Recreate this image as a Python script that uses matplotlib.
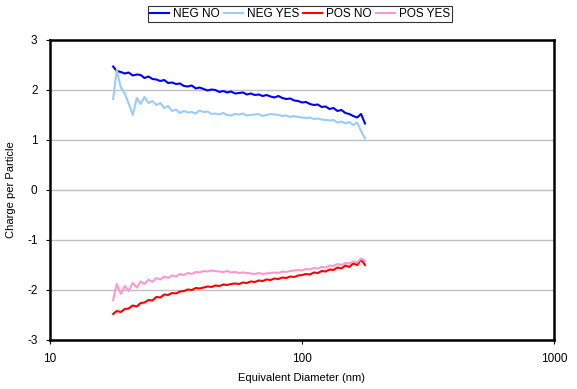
import matplotlib
matplotlib.use("Agg")
import matplotlib.pyplot as plt
from matplotlib.ticker import FixedLocator, NullLocator

plt.rcParams["font.family"] = ["Liberation Sans", "DejaVu Sans"]
plt.rcParams["axes.unicode_minus"] = False

# SMPS channel midpoints (nm)
diameter = [17.8, 18.4, 19.1, 19.8, 20.5, 21.3, 22.1, 22.9, 23.7, 24.6,
            25.5, 26.4, 27.4, 28.4, 29.4, 30.5, 31.6, 32.8, 34.0, 35.2,
            36.5, 37.9, 39.2, 40.7, 42.2, 43.7, 45.3, 47.0, 48.7, 50.5,
            52.3, 54.2, 56.2, 58.3, 60.4, 62.6, 64.9, 67.3, 69.8, 72.3,
            75.0, 77.7, 80.6, 83.5, 86.6, 89.8, 93.1, 96.5, 100.0, 103.7,
            107.5, 111.4, 115.5, 119.7, 124.1, 128.6, 133.3, 138.2, 143.3, 148.6,
            154.0, 159.6, 165.5, 171.5, 177.8]

neg_no = [2.47, 2.38, 2.36, 2.33, 2.35, 2.29, 2.31, 2.30, 2.24, 2.27,
          2.22, 2.21, 2.18, 2.20, 2.14, 2.15, 2.12, 2.13, 2.08, 2.07,
          2.09, 2.03, 2.05, 2.02, 1.99, 2.01, 2.00, 1.96, 1.98, 1.95,
          1.97, 1.93, 1.94, 1.95, 1.91, 1.93, 1.90, 1.91, 1.88, 1.90,
          1.87, 1.85, 1.88, 1.84, 1.82, 1.83, 1.79, 1.78, 1.75, 1.76,
          1.72, 1.70, 1.71, 1.66, 1.67, 1.62, 1.64, 1.58, 1.60, 1.54,
          1.52, 1.48, 1.45, 1.52, 1.33]

neg_yes = [1.82, 2.40, 2.05, 1.93, 1.74, 1.50, 1.84, 1.72, 1.86, 1.74,
           1.78, 1.70, 1.74, 1.64, 1.68, 1.58, 1.61, 1.54, 1.58, 1.55,
           1.56, 1.53, 1.59, 1.56, 1.57, 1.52, 1.53, 1.51, 1.54, 1.50,
           1.49, 1.52, 1.51, 1.53, 1.49, 1.50, 1.51, 1.52, 1.48, 1.50,
           1.52, 1.51, 1.50, 1.48, 1.49, 1.46, 1.48, 1.46, 1.45, 1.44,
           1.45, 1.42, 1.43, 1.41, 1.40, 1.39, 1.40, 1.35, 1.37, 1.33,
           1.36, 1.30, 1.35, 1.18, 1.03]

pos_no = [-2.48, -2.42, -2.44, -2.38, -2.37, -2.31, -2.33, -2.26, -2.25, -2.20,
          -2.21, -2.14, -2.15, -2.09, -2.10, -2.06, -2.07, -2.03, -2.02, -1.99,
          -2.00, -1.96, -1.97, -1.95, -1.93, -1.94, -1.91, -1.92, -1.89, -1.90,
          -1.88, -1.87, -1.88, -1.85, -1.86, -1.83, -1.84, -1.81, -1.82, -1.79,
          -1.80, -1.77, -1.78, -1.75, -1.76, -1.73, -1.74, -1.71, -1.70, -1.68,
          -1.69, -1.65, -1.66, -1.62, -1.63, -1.59, -1.60, -1.55, -1.57, -1.51,
          -1.54, -1.47, -1.50, -1.39, -1.50]

pos_yes = [-2.20, -1.88, -2.08, -1.92, -2.02, -1.86, -1.95, -1.83, -1.88, -1.79,
           -1.84, -1.76, -1.79, -1.73, -1.76, -1.71, -1.73, -1.68, -1.70, -1.66,
           -1.68, -1.64, -1.65, -1.62, -1.63, -1.61, -1.62, -1.63, -1.64, -1.62,
           -1.65, -1.64, -1.66, -1.65, -1.66, -1.67, -1.68, -1.66, -1.68, -1.67,
           -1.66, -1.65, -1.66, -1.63, -1.64, -1.62, -1.61, -1.60, -1.61, -1.58,
           -1.59, -1.56, -1.57, -1.54, -1.55, -1.51, -1.52, -1.48, -1.50, -1.46,
           -1.47, -1.43, -1.45, -1.37, -1.42]

series = [
    ("NEG NO", neg_no, "#0000ff"),
    ("NEG YES", neg_yes, "#99ccff"),
    ("POS NO", pos_no, "#ff0000"),
    ("POS YES", pos_yes, "#ff99cc"),
]

fig = plt.figure(figsize=(5.77, 3.89), dpi=100)
ax = fig.add_axes([50 / 577, 1 - 340 / 389, 504 / 577, 300 / 389])

for label, values, color in series:
    ax.plot(diameter, values, color=color, lw=1.5, label=label)

ax.set_xscale("log")
ax.set_xlim(10, 1000)
ax.set_ylim(-3, 3)
ax.xaxis.set_major_locator(FixedLocator([10, 100, 1000]))
ax.xaxis.set_minor_locator(NullLocator())
ax.set_xticklabels(["10", "100", "1000"])
ax.set_yticks([-3, -2, -1, 0, 1, 2, 3])
ax.yaxis.grid(True, color="#c0c0c0", lw=1)
ax.set_axisbelow(True)

for side in ax.spines.values():
    side.set_linewidth(1.8)
    side.set_color("black")

ax.tick_params(axis="both", labelsize=8.5, length=3, width=0.8, direction="out", pad=6)
ax.set_xlabel("Equivalent Diameter (nm)", fontsize=8, labelpad=6)
ax.set_ylabel("Charge per Particle", fontsize=8, labelpad=8)

leg = fig.legend(loc="center", bbox_to_anchor=(300 / 577, 1 - 14 / 389), ncol=4,
                 fontsize=8.5, frameon=True, fancybox=False, handlelength=1.6,
                 handletextpad=0.3, columnspacing=0.4, borderpad=0.2,
                 borderaxespad=0.1)
leg.get_frame().set_edgecolor("black")
leg.get_frame().set_linewidth(0.8)

fig.savefig("out.png", dpi=100)
